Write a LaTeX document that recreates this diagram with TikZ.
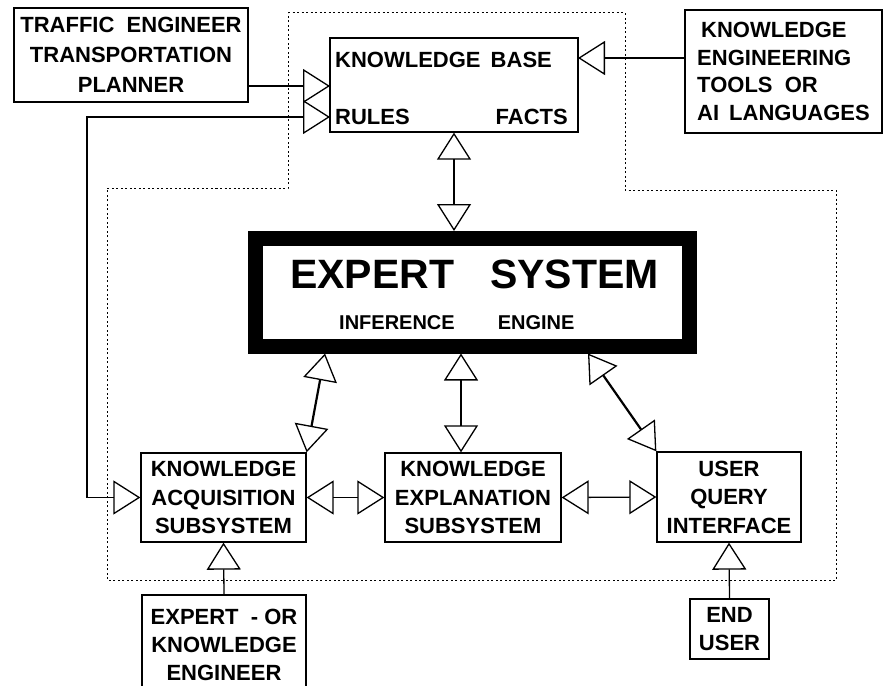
\documentclass[tikz,border=0pt]{standalone}
\usepackage{fontspec}
\setmainfont{Liberation Sans}
\usetikzlibrary{arrows.meta}
\usetikzlibrary{calc}

\tikzset{
    texte/.style={inner sep=0pt, font=\bfseries\fontsize{22}{28.5}\selectfont},
    boite/.style={texte, draw, line width=1.3pt, align=center},
    fil/.style={line width=1.3pt},
    diag/.style={line width=2.2pt, >={Triangle[open, length=27pt, width=34pt, line width=1.3pt]}},
    cadre/.style={line width=1pt, dash pattern=on 2pt off 2.5pt},
}

\begin{document}
\begin{tikzpicture}[x=1pt, y=-1pt, >={Triangle[open, length=27pt, width=34pt]}]
            \useasboundingbox (0,0) rectangle (883,685);
            \clip (0,0) rectangle (883,685);

            \draw[cadre] (288,13) -- (625,13) -- (625,190) -- (836,190) -- (836,580)
                -- (107,580) -- (107,188) -- (288,188) -- cycle;

            \node[boite, minimum width=234pt, minimum height=94pt, font=\bfseries\fontsize{22}{30}\selectfont] (TE) at (131,55)
                {TRAFFIC\ \ ENGINEER\\TRANSPORTATION\\PLANNER};
            \node[boite, minimum width=248pt, minimum height=94pt] (KB) at (454,85) {};
            \node[texte, anchor=base west] (KBt) at (335,67) {KNOWLEDGE\hspace{4pt} BASE};
            \node[texte, anchor=base west] (RU) at (335,124) {RULES};
            \node[texte, anchor=base east] (FA) at (568,124) {FACTS};
            \node[boite, align=left, minimum width=197pt, minimum height=123pt, font=\bfseries\fontsize{22}{27.5}\selectfont] (KT) at (783.5,71.5)
                {\hspace*{4pt}KNOWLEDGE\\ENGINEERING\\TOOLS\ \ OR\\AI\hspace{10pt}LANGUAGES};

            \node[draw, line width=15pt, minimum width=434.5pt, minimum height=107.5pt, inner sep=0pt] (ES) at (472.25,292.25) {};
            \node[texte, anchor=base west, font=\bfseries\fontsize{41}{41}\selectfont] (ESt) at (290,288) {EXPERT\hspace{36pt}SYSTEM};
            \node[texte, anchor=base west, font=\bfseries\fontsize{20}{20}\selectfont] (ESs) at (339,329) {INFERENCE\hspace{43pt}ENGINE};

            \node[boite, minimum width=165pt, minimum height=89pt] (KA) at (223.5,497.5) {KNOWLEDGE\\ACQUISITION\\SUBSYSTEM};
            \node[boite, minimum width=176pt, minimum height=89pt] (KX) at (473,497.5) {KNOWLEDGE\\EXPLANATION\\SUBSYSTEM};
            \node[boite, minimum width=144pt, minimum height=90pt] (UQ) at (729,497) {USER\\QUERY\\INTERFACE};
            \node[boite, minimum width=164pt, minimum height=100pt, font=\bfseries\fontsize{22}{28}\selectfont] (EX) at (224,645)
                {EXPERT\ \ -\ OR\\KNOWLEDGE\\ENGINEER};
            \node[boite, minimum width=79pt, minimum height=60pt, font=\bfseries\fontsize{22}{28}\selectfont] (EU) at (729.5,629) {END\\USER};

            \coordinate (P1) at (330,86);
            \coordinate (P2) at (330,117);
            \coordinate (P3) at (578,58);
            \coordinate (B) at (87,300);
            \coordinate (E1) at (325,353.5);
            \coordinate (E2) at (461,353.5);
            \coordinate (E3) at (588,353.5);

            \draw[fil, ->] (TE.east |- P1) -- (P1);
            \draw[fil, <->] (P2) -| (B) |- (KA.west);
            \draw[fil, ->] (KT.west |- P3) -- (P3);
            \draw[fil, <->] (KB.south) -- (KB.south |- ES.north);
            \draw[diag, <->] (E1) -- (KA.north east);
            \draw[fil, <->] (E2) -- (E2 |- KX.north);
            \draw[diag, <->] (E3) -- (UQ.north west);
            \draw[fil, <->] (KA.east) -- (KX.west);
            \draw[fil, <->] (KX.east) -- (UQ.west);
            \draw[fil, ->] (EX.north) -- (KA.south);
            \draw[fil, ->] (EU.north) -- (UQ.south);
        \end{tikzpicture}
\end{document}
